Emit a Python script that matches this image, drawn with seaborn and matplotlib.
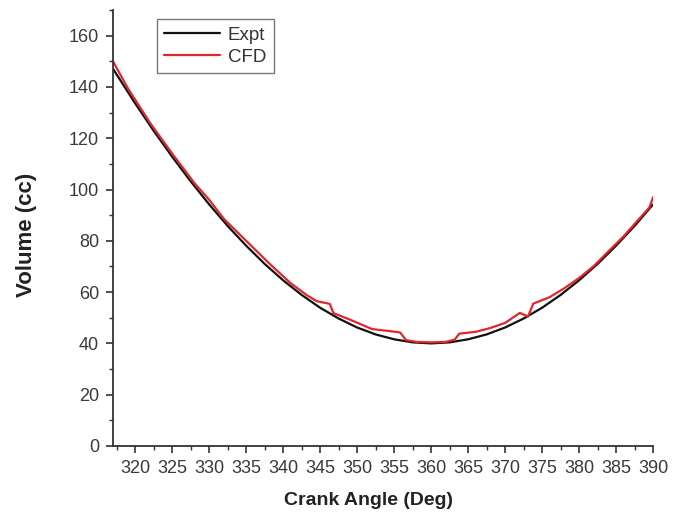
import numpy as np
import pandas as pd
import matplotlib
matplotlib.use("Agg")
import matplotlib.pyplot as plt
from matplotlib.ticker import MultipleLocator
import seaborn as sns

# Measured cylinder volume over the crank angle range
expt_angle = [317, 320, 322.5, 325, 327.5, 330, 332.5, 335, 337.5, 340, 342.5, 345,
              347.5, 350, 352.5, 355, 357.5, 360, 362.5, 365, 367.5, 370, 372.5,
              375, 377.5, 380, 382.5, 385, 387.5, 390]
expt_volume = [147.1, 133.6, 122.9, 112.8, 103.2, 94.2, 85.8, 78.1, 71.0, 64.6, 58.9, 53.9,
               49.7, 46.2, 43.5, 41.6, 40.4, 40.0, 40.4, 41.6, 43.5, 46.2, 49.7,
               53.9, 58.9, 64.6, 71.0, 78.1, 85.8, 94.2]

# CFD predicted volume
cfd_angle = [317, 319, 322, 325, 328, 330, 332, 335, 338, 341, 343.2, 344.5, 346.3, 346.8,
             349, 352, 355.8, 356.6, 358, 360, 362, 363.2, 363.8, 366, 368, 370,
             372, 373.1, 373.8, 376, 378, 380, 382, 384, 386, 388, 389.5, 390]
cfd_volume = [150.0, 139.5, 126.0, 114.0, 102.5, 96.0, 88.5, 80.0, 71.5, 63.5, 58.8, 56.5, 55.4, 51.8,
              49.3, 45.6, 44.3, 41.3, 40.6, 40.4, 40.6, 41.5, 43.8, 44.5, 46.0, 48.0,
              51.9, 50.5, 55.5, 58.0, 61.5, 65.5, 70.2, 76.0, 81.7, 88.2, 93.0, 97.0]

series_names = ["Expt", "CFD"]
series_colors = ["#111111", "#e3262b"]

df = pd.concat([
    pd.DataFrame({"angle": expt_angle, "volume": expt_volume, "series": series_names[0]}),
    pd.DataFrame({"angle": cfd_angle, "volume": cfd_volume, "series": series_names[1]}),
], ignore_index=True)

sns.set_style("ticks")
plt.rcParams["font.family"] = ["Liberation Sans", "DejaVu Sans"]

fig = plt.figure(figsize=(6.86, 5.19), dpi=100)
ax = fig.add_axes([0.1647, 0.1407, 0.7873, 0.84])

sns.lineplot(data=df, x="angle", y="volume", hue="series", hue_order=series_names,
             palette=series_colors, sort=False, estimator=None, linewidth=1.6, ax=ax)

ax.set_xlim(317, 390)
ax.set_ylim(0, 170)
ax.xaxis.set_major_locator(MultipleLocator(5))
ax.xaxis.set_minor_locator(MultipleLocator(2.5))
ax.yaxis.set_major_locator(MultipleLocator(20))
ax.yaxis.set_minor_locator(MultipleLocator(10))
ax.set_xticks(np.arange(320, 391, 5))

for s in ["top", "right"]:
    ax.spines[s].set_visible(False)
for s in ["left", "bottom"]:
    ax.spines[s].set_color("#333333")
    ax.spines[s].set_linewidth(1.3)

ax.tick_params(which="major", direction="out", length=5, width=1.2, color="#333333",
               labelsize=13, labelcolor="#3a3a3a", pad=5)
ax.tick_params(which="minor", direction="out", length=3, width=1.0, color="#333333")

ax.set_xlabel("Crank Angle (Deg)", fontsize=14, fontweight="bold", color="#222222")
ax.set_ylabel("Volume (cc)", fontsize=16, fontweight="bold", color="#222222")
ax.xaxis.set_label_coords(0.474, -0.125)
ax.yaxis.set_label_coords(-0.161, 0.484)
ax.xaxis.label.set_verticalalignment("center")
ax.yaxis.label.set_verticalalignment("center")

leg = ax.legend(loc="upper left", bbox_to_anchor=(0.081, 0.979), borderaxespad=0,
                fontsize=13.5, frameon=True, fancybox=False, handlelength=3.0,
                handletextpad=0.4, borderpad=0.4, labelspacing=0.25)
leg.get_frame().set_edgecolor("#555555")
leg.get_frame().set_linewidth(1.0)
for t in leg.get_texts():
    t.set_color("#333333")

fig.savefig("out.png", dpi=100)
